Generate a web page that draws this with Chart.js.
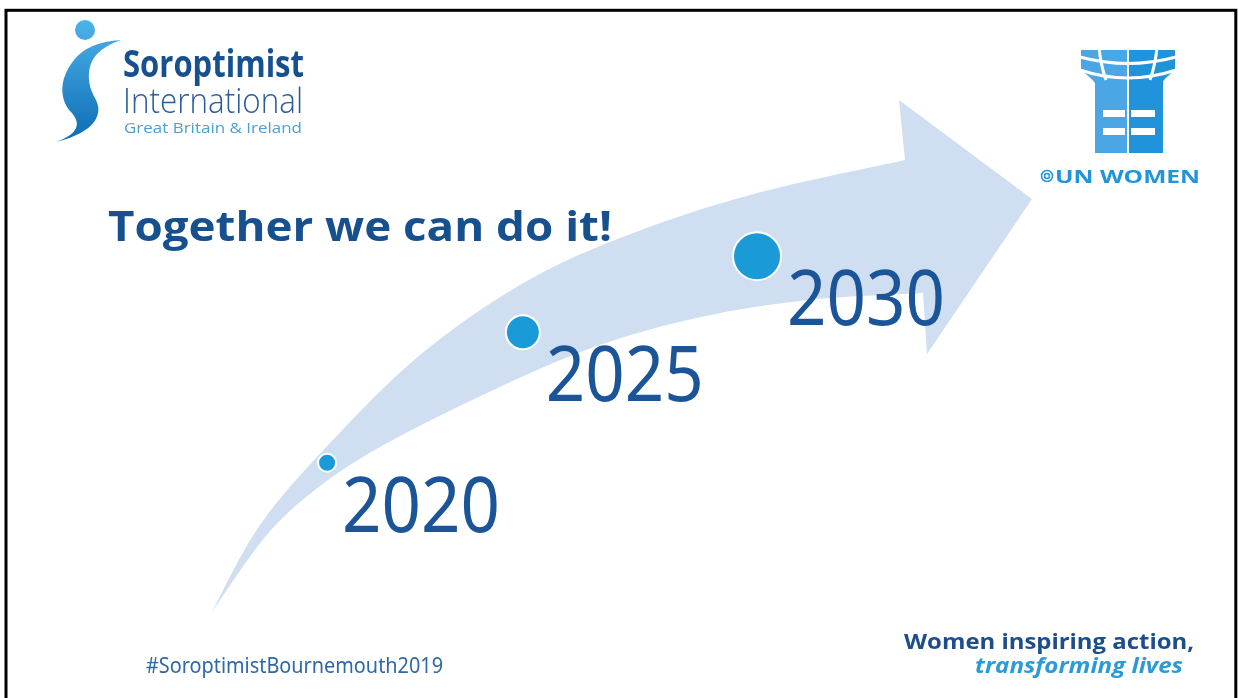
<!DOCTYPE html>
<html>
<head>
<meta charset="utf-8">
<script src="https://cdn.jsdelivr.net/npm/chart.js@4"></script>
<style>
  html, body { margin: 0; padding: 0; background: #fff; }
  canvas { display: block; }
</style>
</head>
<body>
<canvas id="slide" width="1239" height="698"></canvas>
<script>
// milestones on the arrow
const years = ['2020', '2025', '2030'];
const progressX = [26.4, 42.2, 61.1];
const progressY = [33.7, 52.4, 63.3];
const bubbleSize = [9, 17, 24];

const titleText = 'Together we can do it!';
const hashtag = '#SoroptimistBournemouth2019';
const tagline = ['Women inspiring action,', 'transforming lives'];

const DARK = '#17508f';
const YEAR = '#1b5598';
const LIGHT = '#1f95da';

// draw text squeezed/stretched to a given width
const fitText = (ctx, text, x, y, w, font, color) => {
  ctx.save();
  ctx.font = font;
  ctx.fillStyle = color;
  ctx.textBaseline = 'alphabetic';
  const m = ctx.measureText(text).width;
  ctx.translate(x, y);
  ctx.scale(w / m, 1);
  ctx.fillText(text, 0, 0);
  ctx.restore();
};

// smooth curve through points (catmull-rom)
const smoothThrough = (ctx, pts) => {
  for (let i = 0; i < pts.length - 1; i++) {
    const p0 = pts[i - 1] || pts[i];
    const p1 = pts[i];
    const p2 = pts[i + 1];
    const p3 = pts[i + 2] || p2;
    ctx.bezierCurveTo(
      p1[0] + (p2[0] - p0[0]) / 6, p1[1] + (p2[1] - p0[1]) / 6,
      p2[0] - (p3[0] - p1[0]) / 6, p2[1] - (p3[1] - p1[1]) / 6,
      p2[0], p2[1]
    );
  }
};

const drawArrow = (ctx) => {
  const upper = [[212, 612], [260, 525], [330, 443], [420, 355], [520, 285], [620, 238], [750, 195], [905, 160]];
  const lower = [[923, 293], [809, 300], [701, 317], [594, 347], [487, 393], [380, 447], [315, 490], [265, 537], [212, 612]];
  ctx.save();
  ctx.beginPath();
  ctx.moveTo(212, 612);
  smoothThrough(ctx, upper);
  ctx.lineTo(899, 100);
  ctx.lineTo(1032, 199);
  ctx.lineTo(927, 354);
  ctx.lineTo(923, 293);
  smoothThrough(ctx, lower);
  ctx.closePath();
  ctx.fillStyle = 'rgb(207, 223, 241)';
  ctx.fill();
  ctx.restore();
};

const drawSoroptimistLogo = (ctx) => {
  ctx.save();
  const g = ctx.createLinearGradient(0, 20, 0, 145);
  g.addColorStop(0, '#4db3ea');
  g.addColorStop(1, '#0b6ab4');
  ctx.fillStyle = g;
  ctx.beginPath();
  ctx.arc(85, 30, 10, 0, Math.PI * 2);
  ctx.fill();
  ctx.beginPath();
  ctx.moveTo(121, 40);
  ctx.quadraticCurveTo(88, 42, 74, 60);
  ctx.bezierCurveTo(58, 80, 60, 100, 71, 112);
  ctx.bezierCurveTo(82, 124, 78, 134, 56, 142);
  ctx.bezierCurveTo(96, 132, 104, 114, 95, 98);
  ctx.bezierCurveTo(87, 84, 86, 66, 97, 54);
  ctx.quadraticCurveTo(106, 45, 121, 40);
  ctx.closePath();
  ctx.fill();
  ctx.restore();

  fitText(ctx, 'Soroptimist', 123, 77, 181, 'bold 37px "Open Sans"', DARK);
  fitText(ctx, 'International', 123, 113, 180, '300 35px "Open Sans"', '#2a5c98');
  fitText(ctx, 'Great Britain & Ireland', 124, 133, 178, '15px "Open Sans"', '#4a9fd6');
};

const drawUnWomenLogo = (ctx) => {
  ctx.save();
  const left = '#4aa6e4', right = '#2193da';
  // globe bowl
  ctx.beginPath();
  ctx.moveTo(1081, 50);
  ctx.lineTo(1175, 50);
  ctx.lineTo(1175, 70);
  ctx.quadraticCurveTo(1160, 82, 1163, 84);
  ctx.lineTo(1095, 84);
  ctx.quadraticCurveTo(1096, 82, 1081, 70);
  ctx.closePath();
  ctx.save();
  ctx.clip();
  ctx.fillStyle = left;
  ctx.fillRect(1078, 48, 50, 50);
  ctx.fillStyle = right;
  ctx.fillRect(1128, 48, 50, 50);
  ctx.restore();
  // trunk
  ctx.fillStyle = left;
  ctx.fillRect(1095, 82, 33, 71);
  ctx.fillStyle = right;
  ctx.fillRect(1128, 82, 35, 71);
  // white grid lines
  ctx.strokeStyle = '#fff';
  ctx.lineWidth = 3;
  ctx.beginPath();
  ctx.moveTo(1080, 57); ctx.quadraticCurveTo(1128, 70, 1176, 57);
  ctx.moveTo(1080, 70); ctx.quadraticCurveTo(1128, 86, 1176, 70);
  ctx.stroke();
  ctx.beginPath();
  ctx.moveTo(1099, 48); ctx.quadraticCurveTo(1101, 66, 1106, 80);
  ctx.moveTo(1157, 48); ctx.quadraticCurveTo(1155, 66, 1150, 80);
  ctx.stroke();
  ctx.lineWidth = 2;
  ctx.beginPath();
  ctx.moveTo(1128, 48); ctx.lineTo(1128, 154);
  ctx.stroke();
  // E cut-outs
  ctx.fillStyle = '#fff';
  [[110, 7], [128, 7]].forEach(([y, h]) => {
    ctx.fillRect(1103, y, 22, h);
    ctx.fillRect(1131, y, 24, h);
  });
  // emblem
  ctx.strokeStyle = LIGHT;
  ctx.lineWidth = 1.5;
  ctx.beginPath();
  ctx.arc(1047, 176, 5.5, 0, Math.PI * 2);
  ctx.stroke();
  ctx.beginPath();
  ctx.arc(1047, 176, 2.5, 0, Math.PI * 2);
  ctx.stroke();
  ctx.restore();
  fitText(ctx, 'UN WOMEN', 1055, 183, 145, 'bold 18px "Open Sans"', LIGHT);
};

const slideBackground = {
  id: 'slideBackground',
  beforeDatasetsDraw(chart) {
    const ctx = chart.ctx;
    ctx.save();
    ctx.fillStyle = '#fff';
    ctx.fillRect(0, 0, chart.width, chart.height);
    ctx.restore();

    drawArrow(ctx);
    drawSoroptimistLogo(ctx);
    drawUnWomenLogo(ctx);

    fitText(ctx, titleText, 108, 241, 504, 'bold 41px "Open Sans"', DARK);
    fitText(ctx, hashtag, 146, 673, 297, '21px "Noto Sans"', '#2d69a6');
    fitText(ctx, tagline[0], 904, 649, 290, 'bold 22px "Open Sans"', '#1c4d8c');
    fitText(ctx, tagline[1], 975, 673, 208, 'italic bold 22px "Open Sans"', '#2b9ad6');

    // slide frame
    ctx.save();
    ctx.strokeStyle = '#000';
    ctx.lineWidth = 3;
    ctx.strokeRect(6, 10.3, 1229.8, 800);
    ctx.restore();
  }
};

const yearLabels = {
  id: 'yearLabels',
  afterDatasetsDraw(chart) {
    const ctx = chart.ctx;
    const meta = chart.getDatasetMeta(0);
    meta.data.forEach((pt, i) => {
      fitText(ctx, years[i], pt.x + bubbleSize[i] + 6, pt.y + 69, 158, '77px "Noto Sans"', YEAR);
    });
  }
};

const ctx = document.getElementById('slide').getContext('2d');

new Chart(ctx, {
  type: 'bubble',
  data: {
    labels: years,
    datasets: [{
      label: 'Milestones',
      data: years.map((y, i) => ({ x: progressX[i], y: progressY[i], r: bubbleSize[i] })),
      backgroundColor: '#1a9ad6',
      borderColor: '#ffffff',
      borderWidth: 2,
      hoverRadius: 0,
      clip: false
    }]
  },
  options: {
    responsive: false,
    animation: false,
    events: [],
    layout: { padding: 0, autoPadding: false },
    scales: {
      x: { type: 'linear', min: 0, max: 100, display: false },
      y: { type: 'linear', min: 0, max: 100, display: false }
    },
    plugins: {
      legend: { display: false },
      tooltip: { enabled: false }
    }
  },
  plugins: [slideBackground, yearLabels]
});
</script>
</body>
</html>
